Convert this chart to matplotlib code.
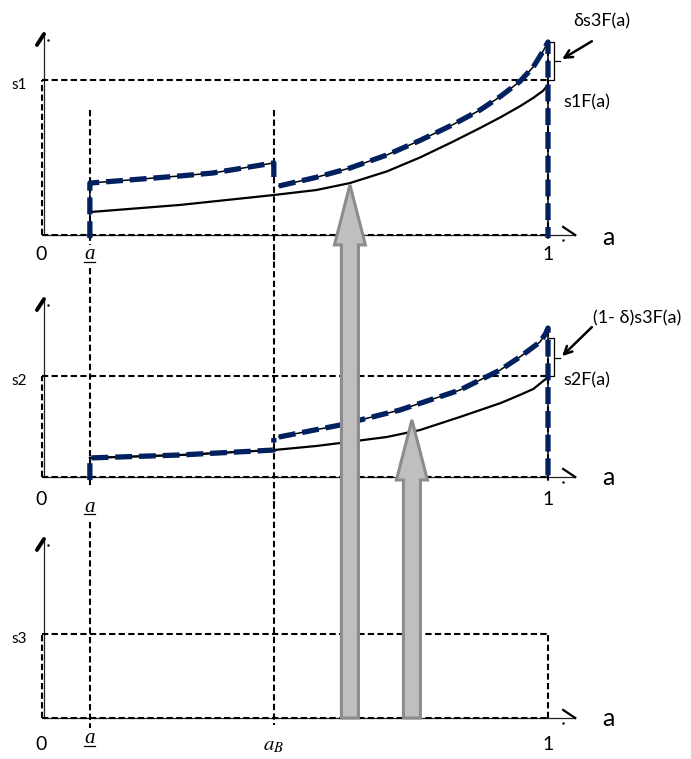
import matplotlib
matplotlib.use("Agg")
import matplotlib.pyplot as plt
from matplotlib.patches import Polygon

plt.rcParams['font.family'] = ['Lato', 'DejaVu Sans']
plt.rcParams['mathtext.fontset'] = 'stix'

# ---------------- data ----------------
A_LOW = 0.091          # underline-a
A_B = 0.456            # a_B
S_LEVELS = [1.0, 0.652, 0.542]          # s1, s2, s3
S_LABELS = ["s1", "s2", "s3"]
AXIS_TOPS = [1.297, 1.148, 1.155]

# panel 1: s1F(a) and the dashed payoff
p1_solid_a = [0.091, 0.27, 0.456, 0.540, 0.607, 0.680, 0.746, 0.810, 0.865, 0.906, 0.944, 0.971, 0.990, 0.998]
p1_solid_y = [0.148, 0.194, 0.258, 0.290, 0.335, 0.410, 0.500, 0.600, 0.690, 0.760, 0.830, 0.885, 0.930, 0.961]
p1_blueA_a = [0.091, 0.091, 0.27, 0.335, 0.456, 0.456]
p1_blueA_y = [-0.02, 0.335, 0.381, 0.400, 0.465, 0.374]
p1_blueB_a = [0.466, 0.540, 0.607, 0.680, 0.746, 0.810, 0.865, 0.906, 0.944, 0.971, 0.990, 1.0, 1.0]
p1_blueB_y = [0.316, 0.372, 0.432, 0.516, 0.610, 0.710, 0.806, 0.895, 0.990, 1.085, 1.185, 1.245, -0.02]

# panel 2: s2F(a) and the dashed payoff
p2_solid_a = [0.091, 0.27, 0.456, 0.540, 0.587, 0.680, 0.746, 0.825, 0.906, 0.944, 0.971, 0.998]
p2_solid_y = [0.123, 0.142, 0.174, 0.200, 0.219, 0.258, 0.303, 0.387, 0.477, 0.529, 0.568, 0.639]
p2_blueA_a = [0.091, 0.091, 0.27, 0.456, 0.456]
p2_blueA_y = [-0.02, 0.123, 0.142, 0.174, 0.252]
p2_blueB_a = [0.466, 0.587, 0.706, 0.825, 0.905, 0.944, 0.984, 0.995, 1.0, 1.0]
p2_blueB_y = [0.258, 0.335, 0.432, 0.561, 0.690, 0.774, 0.871, 0.923, 0.961, -0.02]

# brackets: (top, bottom, middle)
brackets = [(1.245, 1.0, 1.123), (0.897, 0.652, 0.768)]
bracket_texts = ["δs3F(a)", "(1- δ)s3F(a)"]
curve_texts = ["s1F(a)", "s2F(a)"]

# gray arrows: a position, panel of tip, tip value
arrow_a = [0.607, 0.730]
arrow_panel = [0, 1]
arrow_tip_y = [0.323, 0.368]

# ---------------- layout ----------------
W, H = 691, 759
fig = plt.figure(figsize=(W / 100, H / 100), dpi=100)
PX_PER_UNIT = 155.0
X0, PX_PER_A = 44.0, 504.0
bands = [(0, 260, 235), (260, 503, 477), (503, 759, 718)]  # top, bottom, baseline (px)
axes = []
for top, bot, base in bands:
    ax = fig.add_axes([0, 1 - bot / H, 1, (bot - top) / H])
    ax.set_xlim(-X0 / PX_PER_A, (W - X0) / PX_PER_A)
    ax.set_ylim(-(bot - base) / PX_PER_UNIT, (base - top) / PX_PER_UNIT)
    ax.axis('off')
    axes.append(ax)

BLUE = '#002060'
dash_kw = dict(color='black', lw=1.5, linestyle=(0, (3, 1.6)), clip_on=False)
blue_kw = dict(color=BLUE, lw=3.8, linestyle=(0, (3.2, 1.3)), clip_on=False, zorder=5)
thin_kw = dict(color='black', lw=1.1, clip_on=False, zorder=4)

label_y_zero = [-0.129, -0.148, -0.174]
label_y_alow = [-0.125, -0.194, -0.135]
label_y_uline = [-0.174, -0.239, -0.181]
label_y_axis_a = [-0.013, -0.006, 0.0]
alow_tops = [0.806, 1.348, 1.265]
ab_ranges = [(0.806, -0.17), (1.45, -0.17), (1.45, -0.045)]

for i, ax in enumerate(axes):
    s = S_LEVELS[i]
    top = AXIS_TOPS[i]
    # axes
    ax.plot([0, 0], [0, top], color='#222222', lw=0.9, clip_on=False)
    ax.plot([-0.014, 0], [top - 0.071, top], color='black', lw=2.8,
            solid_capstyle='round', clip_on=False)
    ax.plot([0.008], [top - 0.04], marker='.', ms=1.5, color='black', clip_on=False)
    ax.plot([0, 1.054], [0, 0], color='#222222', lw=0.9, clip_on=False)
    ax.plot([1.030, 1.054], [0.052, 0], color='black', lw=1.6, clip_on=False)
    ax.plot([1.030], [-0.032], marker='.', ms=1.5, color='black', clip_on=False)
    # dashed box
    ax.plot([-0.004, -0.004], [0, s], **dash_kw)
    ax.plot([-0.004, 1.0], [s, s], **dash_kw)
    ax.plot([-0.004, 1.0], [0, 0], **dash_kw)
    # verticals
    ax.plot([A_LOW, A_LOW], [alow_tops[i], -0.065], **dash_kw)
    ax.plot([A_B, A_B], list(ab_ranges[i]), **dash_kw)
    # texts
    ax.text(-0.05, s - 0.035, S_LABELS[i], fontsize=11, ha='center', va='center')
    ax.text(-0.006, label_y_zero[i], "0", fontsize=14, ha='center', va='center')
    ax.text(1.0, label_y_zero[i], "1", fontsize=14, ha='center', va='center')
    ax.text(1.119, label_y_axis_a[i], "a", fontsize=18, ha='center', va='center')
    ax.text(A_LOW, label_y_alow[i], "a", fontsize=15, ha='center', va='center',
            family='Liberation Serif', style='italic')
    ax.plot([A_LOW - 0.011, A_LOW + 0.011], [label_y_uline[i]] * 2,
            color='black', lw=0.9, clip_on=False)

ax1, ax2, ax3 = axes
# panel 3 right side of the box
ax3.plot([1.0, 1.0], [0, S_LEVELS[2]], **dash_kw)
ax3.text(A_B, -0.174, r"$a_{B}$", fontsize=15, ha='center', va='center')

# curves for panels 1 and 2
panels = [
    (ax1, p1_solid_a, p1_solid_y, p1_blueA_a, p1_blueA_y, p1_blueB_a, p1_blueB_y),
    (ax2, p2_solid_a, p2_solid_y, p2_blueA_a, p2_blueA_y, p2_blueB_a, p2_blueB_y),
]
for k, (ax, sa, sy, ba, by, bba, bby) in enumerate(panels):
    ax.plot(sa, sy, color='black', lw=1.6, clip_on=False, zorder=3)
    ax.plot([1.0, 1.0], [-0.02, bby[-2]], zorder=3, **dash_kw)
    ax.plot(ba, by, **thin_kw)
    ax.plot(bba, bby, **thin_kw)
    ax.plot(ba, by, **blue_kw)
    ax.plot(bba, bby, **blue_kw)
    t, b, m = brackets[k]
    ax.plot([1.002, 1.012, 1.012, 1.002], [t, t, b, b], color='black', lw=0.9, clip_on=False)
    ax.plot([1.012, 1.024], [m, m], color='black', lw=0.9, clip_on=False)
    ax.annotate('', xy=(1.028, m + 0.012), xytext=(1.087, t + 0.005 if k == 0 else t + 0.07),
                arrowprops=dict(arrowstyle='->', lw=1.8, color='black', mutation_scale=14,
                                shrinkA=0, shrinkB=0), annotation_clip=False)
    ax.text(1.030, S_LEVELS[k] - (0.142 if k == 0 else 0.026), curve_texts[k],
            fontsize=13, ha='left', va='center')

ax1.text(1.107, 1.38, bracket_texts[0], fontsize=13, ha='center', va='center')
ax2.text(1.090, 1.026, bracket_texts[1], fontsize=13, ha='left', va='center')

# gray arrows spanning the panels
fig.canvas.draw()
inv = fig.transFigure.inverted()
for a, p, ty in zip(arrow_a, arrow_panel, arrow_tip_y):
    tx, tyd = axes[p].transData.transform((a, ty))
    bx, byd = ax3.transData.transform((a, 0))
    w, hw, hl = 8.5, 15.5, 60
    pts = [(tx - w, byd), (tx - w, tyd - hl), (tx - hw, tyd - hl), (tx, tyd),
           (tx + hw, tyd - hl), (tx + w, tyd - hl), (tx + w, byd)]
    pts_f = inv.transform(pts)
    poly = Polygon(pts_f, closed=True, transform=fig.transFigure, facecolor='#bfbfbf',
                   edgecolor='#8c8c8c', lw=2.2, joinstyle='miter', zorder=10)
    fig.add_artist(poly)

fig.savefig('out.png', dpi=100)
